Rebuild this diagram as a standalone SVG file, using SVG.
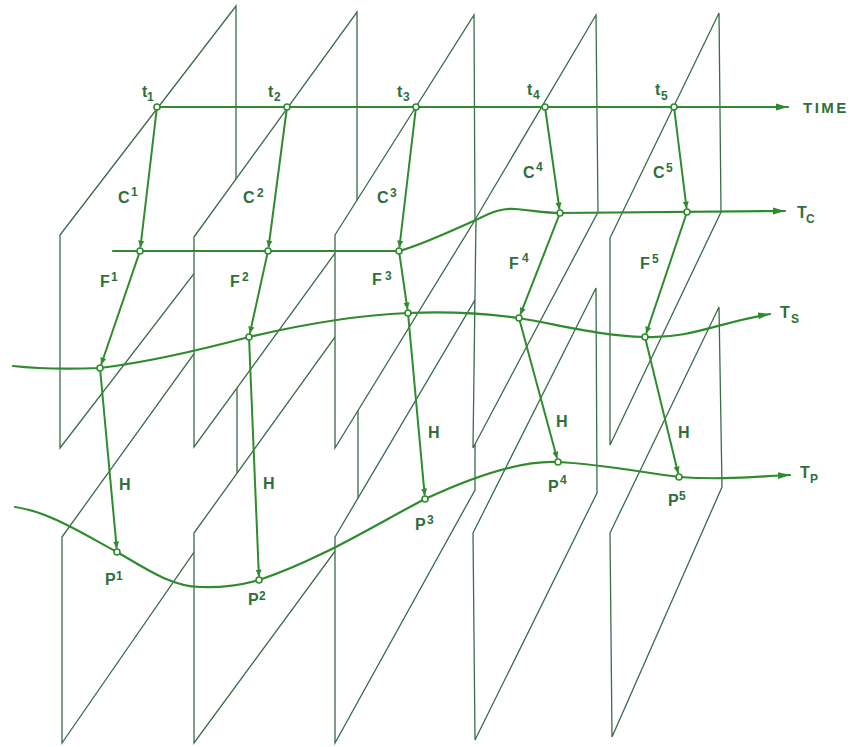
<svg xmlns="http://www.w3.org/2000/svg" width="858" height="747" viewBox="0 0 858 747">
<defs>
<style>
.pl{fill:#fff;stroke:#3b6b4b;stroke-width:1.3;stroke-linejoin:miter}
.cv{fill:none;stroke:#2e8b2e;stroke-width:2.2;stroke-linecap:round}
.ar{fill:none;stroke:#2e8b2e;stroke-width:2;marker-end:url(#sm)}
.nd{fill:#fff;stroke:#2e8b2e;stroke-width:1.6}
text{font-family:"Liberation Sans",Arial,sans-serif;font-weight:bold;fill:#2f6f3a;font-size:16px}
.s{font-size:12px}
</style>
<marker id="sm" viewBox="0 0 8 8" refX="8" refY="4" markerWidth="7" markerHeight="7" markerUnits="userSpaceOnUse" orient="auto">
<path d="M0,0.5 L8,4 L0,7.5 z" fill="#2e8b2e"/>
</marker>
<marker id="bg" viewBox="0 0 12 8" refX="12" refY="4" markerWidth="12" markerHeight="8" markerUnits="userSpaceOnUse" orient="auto">
<path d="M0,0.5 L12,4 L0,7.5 z" fill="#2e8b2e"/>
</marker>
</defs>
<rect width="858" height="747" fill="#fff"/>
<g id="planes">
<polygon id="U1" class="pl" points="60,235 236,6 236,219 60,448"/>
<polygon id="L1" class="pl" points="62,537 237,294 237,490 62,743"/>
<polygon id="U2" class="pl" points="194,237 357,12 357,223 194,447"/>
<polygon id="L2" class="pl" points="194,533 358,305 358,520 194,743"/>
<polygon id="U3" class="pl" points="335,235 474,15 475,220 335,448"/>
<polygon id="L3" class="pl" points="335,537 475,300 475,490 335,743"/>
<polygon id="U4" class="pl" points="476,218 596,15 598,212 473,448"/>
<polygon id="L4" class="pl" points="473,533 596,288 597,493 475,740"/>
<polygon id="U5" class="pl" points="610,238 719,13 721,212 610,445"/>
<polygon id="L5" class="pl" points="610,533 719,307 722,487 612,737"/>
</g>
<g id="connectors">
<path id="time" class="cv" d="M157,107 L788,107" marker-end="url(#bg)"/>
<path id="Tc" class="cv" d="M113,251 L399,251 C415,247 445,234 478,219 C492,212 502,208 515,209 C530,210 545,213 560,213 L785,211" marker-end="url(#bg)"/>
<path id="Ts" class="cv" d="M13,366 C40,369 70,369 100,368 C150,362 200,350 249,337 C300,325 360,315 408,313 C450,311 490,314 519,318 C560,325 600,336 645,337 C690,339 720,322 770,314" marker-end="url(#bg)"/>
<path id="Tp" class="cv" d="M15,507 C50,512 85,535 117,552 C145,568 170,586 200,587 C225,588 245,584 259,580 C320,560 380,522 425,499 C470,478 520,460 558,462 C600,464 640,472 679,477 C720,480 750,477 790,475" marker-end="url(#bg)"/>
<path class="ar" d="M157,107 L140.4,247.5"/>
<path class="ar" d="M287,107 L268.5,247.5"/>
<path class="ar" d="M416,107 L399.4,247.5"/>
<path class="ar" d="M545,107 L559.5,209.5"/>
<path class="ar" d="M674,107 L686.6,208.5"/>
<path class="ar" d="M140,251 L101.1,364.7"/>
<path class="ar" d="M268,251 L249.8,333.6"/>
<path class="ar" d="M399,251 L407.5,309.5"/>
<path class="ar" d="M560,213 L520.3,314.7"/>
<path class="ar" d="M687,212 L646.1,333.7"/>
<path class="ar" d="M100,368 L116.7,548.5"/>
<path class="ar" d="M249,337 L258.9,576.5"/>
<path class="ar" d="M408,313 L424.7,495.5"/>
<path class="ar" d="M519,318 L557.1,458.6"/>
<path class="ar" d="M645,337 L678.2,473.6"/>
</g>
<g id="nodes">
<circle class="nd" cx="157" cy="107" r="3"/>
<circle class="nd" cx="287" cy="107" r="3"/>
<circle class="nd" cx="416" cy="107" r="3"/>
<circle class="nd" cx="545" cy="107" r="3"/>
<circle class="nd" cx="674" cy="107" r="3"/>
<circle class="nd" cx="140" cy="251" r="3"/>
<circle class="nd" cx="268" cy="251" r="3"/>
<circle class="nd" cx="399" cy="251" r="3"/>
<circle class="nd" cx="560" cy="213" r="3"/>
<circle class="nd" cx="687" cy="212" r="3"/>
<circle class="nd" cx="100" cy="368" r="3"/>
<circle class="nd" cx="249" cy="337" r="3"/>
<circle class="nd" cx="408" cy="313" r="3"/>
<circle class="nd" cx="519" cy="318" r="3"/>
<circle class="nd" cx="645" cy="337" r="3"/>
<circle class="nd" cx="117" cy="552" r="3"/>
<circle class="nd" cx="259" cy="580" r="3"/>
<circle class="nd" cx="425" cy="499" r="3"/>
<circle class="nd" cx="558" cy="462" r="3"/>
<circle class="nd" cx="679" cy="477" r="3"/>
</g>
<g id="labels">
<text x="142" y="97">t</text><text class="s" x="147" y="101">1</text>
<text x="268" y="97">t</text><text class="s" x="274" y="101">2</text>
<text x="397" y="97">t</text><text class="s" x="403" y="101">3</text>
<text x="527" y="95">t</text><text class="s" x="533" y="99">4</text>
<text x="655" y="95">t</text><text class="s" x="661" y="100">5</text>
<text x="803" y="113" style="font-size:15px;letter-spacing:2.5px">TIME</text>
<text x="118" y="203">C</text><text class="s" x="131" y="196">1</text>
<text x="243" y="203">C</text><text class="s" x="257" y="197">2</text>
<text x="377" y="203">C</text><text class="s" x="390" y="197">3</text>
<text x="523" y="178">C</text><text class="s" x="536" y="171">4</text>
<text x="653" y="178">C</text><text class="s" x="666" y="172">5</text>
<text x="100" y="287">F</text><text class="s" x="111" y="281">1</text>
<text x="230" y="287">F</text><text class="s" x="242" y="281">2</text>
<text x="372" y="285">F</text><text class="s" x="385" y="280">3</text>
<text x="509" y="269">F</text><text class="s" x="522" y="262">4</text>
<text x="640" y="269">F</text><text class="s" x="652" y="263">5</text>
<text x="119" y="490">H</text>
<text x="263" y="489">H</text>
<text x="428" y="438">H</text>
<text x="556" y="427">H</text>
<text x="678" y="438">H</text>
<text x="105" y="585">P</text><text class="s" x="116" y="580">1</text>
<text x="248" y="605">P</text><text class="s" x="259" y="600">2</text>
<text x="415" y="530">P</text><text class="s" x="427" y="524">3</text>
<text x="548" y="492">P</text><text class="s" x="560" y="484">4</text>
<text x="668" y="506">P</text><text class="s" x="679" y="500">5</text>
<text x="797" y="218">T</text><text class="s" x="806" y="223">C</text>
<text x="780" y="318">T</text><text class="s" x="791" y="323">S</text>
<text x="800" y="478">T</text><text class="s" x="810" y="483">P</text>
</g>
</svg>
